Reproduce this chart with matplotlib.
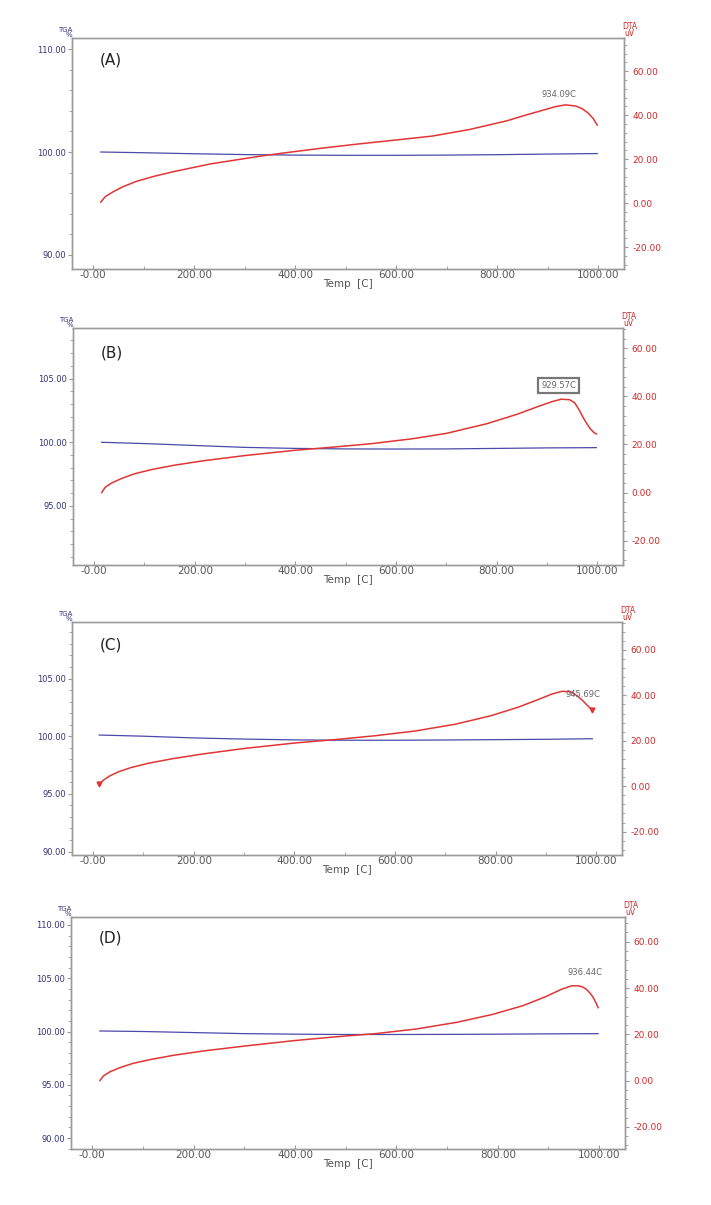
import numpy as np
import matplotlib
matplotlib.use('Agg')
import matplotlib.pyplot as plt
from matplotlib.ticker import MultipleLocator, FuncFormatter

plt.rcParams['font.family'] = ['DejaVu Sans']

# ---- data ----
panel_labels = ['(A)', '(B)', '(C)', '(D)']
peak_labels = ['934.09C', '929.57C', '945.69C', '936.44C']

temp_a = [15, 24, 38, 58, 85, 120, 160, 233, 306, 343, 400, 452, 520, 598, 671, 745, 818, 860, 891, 915, 935, 955, 968, 980, 990, 998]
dta_a = [0.5, 3.0, 5.0, 7.4, 9.9, 12.2, 14.4, 17.9, 20.5, 21.8, 23.5, 25.0, 26.8, 28.7, 30.5, 33.5, 37.4, 40.3, 42.3, 43.9, 44.7, 44.2, 43.0, 41.0, 38.5, 35.5]
tga_temp_a = [15, 100, 200, 300, 400, 500, 600, 700, 800, 900, 998]
tga_a = [100.0, 99.93, 99.83, 99.75, 99.7, 99.68, 99.68, 99.7, 99.74, 99.8, 99.85]

temp_b = [15, 22, 35, 55, 80, 115, 160, 220, 300, 400, 470, 550, 630, 700, 780, 840, 880, 910, 928, 945, 955, 964, 971, 978, 986, 994, 998]
dta_b = [0.0, 2.2, 4.0, 5.9, 7.8, 9.6, 11.4, 13.3, 15.4, 17.6, 18.8, 20.3, 22.3, 24.6, 28.6, 32.5, 35.6, 37.8, 38.8, 38.6, 37.3, 34.3, 31.5, 29.0, 26.5, 24.8, 24.4]
tga_temp_b = [15, 100, 200, 300, 400, 500, 600, 700, 800, 900, 998]
tga_b = [100.0, 99.9, 99.75, 99.6, 99.52, 99.48, 99.47, 99.48, 99.52, 99.56, 99.58]

temp_c = [12, 20, 32, 50, 75, 110, 155, 215, 300, 400, 480, 560, 640, 720, 790, 845, 885, 912, 932, 950, 962, 972, 982, 992]
dta_c = [0.9, 2.6, 4.4, 6.3, 8.2, 10.1, 12.0, 14.1, 16.6, 19.0, 20.5, 22.2, 24.3, 27.3, 31.0, 34.8, 38.2, 40.6, 41.8, 41.5, 39.8, 37.9, 35.6, 33.5]
tga_temp_c = [12, 100, 200, 300, 400, 500, 600, 700, 800, 900, 992]
tga_c = [100.1, 100.0, 99.85, 99.75, 99.68, 99.65, 99.65, 99.67, 99.7, 99.73, 99.78]

temp_d = [15, 22, 35, 55, 80, 115, 160, 220, 300, 400, 480, 560, 640, 720, 790, 850, 895, 925, 945, 958, 967, 975, 982, 988, 994, 998]
dta_d = [0.0, 2.0, 3.8, 5.6, 7.4, 9.1, 10.9, 12.8, 14.9, 17.3, 18.9, 20.3, 22.3, 25.2, 28.6, 32.4, 36.3, 39.4, 40.9, 41.0, 40.5, 39.4, 37.8, 36.0, 33.5, 31.5]
tga_temp_d = [15, 100, 200, 300, 400, 500, 600, 700, 800, 900, 998]
tga_d = [100.05, 100.0, 99.9, 99.8, 99.75, 99.72, 99.72, 99.73, 99.75, 99.78, 99.8]

# axis limits per panel (TGA left, DTA right)
tga_lims = [(88.64, 111.07), (90.36, 108.98), (89.7, 109.9), (88.97, 110.75)]
dta_lims = [(-29.9, 75.1), (-30.1, 68.4), (-30.3, 72.3), (-29.6, 70.7)]
tga_major = [10, 5, 5, 5]
# where the peak text sits (temp, DTA)
peak_text_pos = [(923, 49.2), (923, 44.4), (974, 40.5), (972, 46.6)]

W, H = 711, 1205
# left, right, top, bottom in pixels
boxes = [(72, 624, 38, 269), (73, 623, 328, 565), (72, 622, 622, 855), (71, 625, 917, 1149)]

RED = '#e03535'
BLUE = '#4a4aa8'
NAVY = '#33337a'
GREY = '#555555'
SPINE = '#9a9a9a'


def fmt2(v, pos=None):
    if abs(v) < 1e-9:
        return '-0.00'
    return f'{v:.2f}'


def draw_panel(fig, i, temp, dta, tga_temp, tga):
    l, r, t, b = boxes[i]
    ax = fig.add_axes([l / W, 1 - b / H, (r - l) / W, (b - t) / H])
    ax2 = ax.twinx()

    ax.plot(tga_temp, tga, color=BLUE, lw=0.9)
    ax2.plot(temp, dta, color=RED, lw=1.1)
    if i == 2:
        ax2.plot([temp[0], temp[-1]], [dta[0], dta[-1]], ls='none', marker='v', ms=3.5, color=RED)

    ax.set_xlim(-42, 1051)
    ax.set_ylim(*tga_lims[i])
    ax2.set_ylim(*dta_lims[i])

    ax.xaxis.set_major_locator(MultipleLocator(200))
    ax.xaxis.set_minor_locator(MultipleLocator(100))
    ax.xaxis.set_major_formatter(FuncFormatter(fmt2))
    ax.yaxis.set_major_locator(MultipleLocator(tga_major[i]))
    ax.yaxis.set_minor_locator(MultipleLocator(tga_major[i] / 5))
    ax.yaxis.set_major_formatter(FuncFormatter(lambda v, p: f'{v:.2f}'))
    ax2.yaxis.set_major_locator(MultipleLocator(20))
    ax2.yaxis.set_minor_locator(MultipleLocator(4))
    ax2.yaxis.set_major_formatter(FuncFormatter(lambda v, p: f'{v:.2f}'))

    ax.tick_params(axis='x', which='both', direction='in', colors=SPINE, labelcolor=GREY,
                   labelsize=7.5, pad=1, length=3)
    ax.tick_params(axis='x', which='minor', length=2)
    ax.tick_params(axis='y', which='both', colors=SPINE, labelcolor=NAVY, labelsize=6, pad=1, length=3)
    ax.tick_params(axis='y', which='minor', length=2)
    ax2.tick_params(axis='y', which='both', colors=SPINE, labelcolor='#cc2a2a', labelsize=6.5, pad=3, length=3)
    ax2.tick_params(axis='y', which='minor', length=2)

    for a in (ax, ax2):
        for s in a.spines.values():
            s.set_color(SPINE)
            s.set_linewidth(1.0)

    ax.set_xlabel('Temp  [C]', fontsize=7.5, color=GREY, labelpad=-1)
    ax.text(0, 1.0, 'TGA\n%', transform=ax.transAxes, ha='right', va='bottom',
            fontsize=5, color=NAVY, linespacing=0.75)
    ax2.text(1.01, 1.0, 'DTA\nuV', transform=ax2.transAxes, ha='center', va='bottom',
             fontsize=5.5, color='#cc2a2a', linespacing=0.75)
    ax.text(0.05, [0.905, 0.895, 0.9, 0.91][i], panel_labels[i], transform=ax.transAxes,
            ha='left', va='center', fontsize=11, color='#222222')

    px, py = peak_text_pos[i]
    if i == 1:
        ax2.text(px, py, peak_labels[i], ha='center', va='center', fontsize=6, color='#666666',
                 bbox=dict(boxstyle='square,pad=0.35', fc='white', ec='#777777', lw=1.6))
    else:
        ax2.text(px, py, peak_labels[i], ha='center', va='center', fontsize=6, color='#666666')
    return ax, ax2


fig = plt.figure(figsize=(W / 100, H / 100), dpi=100)
fig.patch.set_facecolor('white')
draw_panel(fig, 0, temp_a, dta_a, tga_temp_a, tga_a)
draw_panel(fig, 1, temp_b, dta_b, tga_temp_b, tga_b)
draw_panel(fig, 2, temp_c, dta_c, tga_temp_c, tga_c)
draw_panel(fig, 3, temp_d, dta_d, tga_temp_d, tga_d)

fig.savefig('out.png', dpi=100)
